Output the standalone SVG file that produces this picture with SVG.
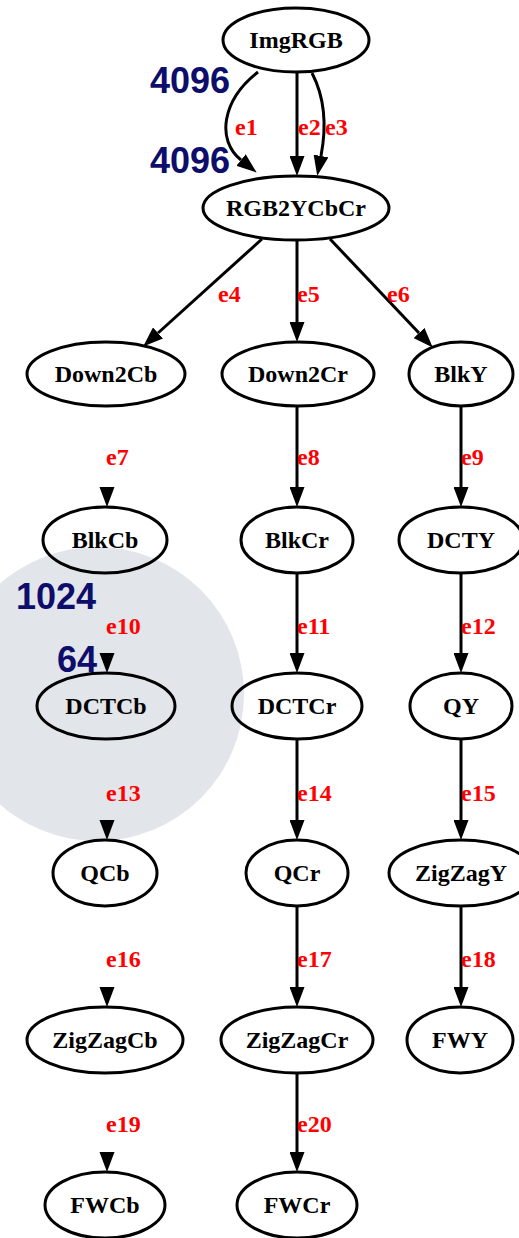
<svg xmlns="http://www.w3.org/2000/svg" width="519" height="1238" viewBox="0 0 519 1238">
  <style>
    .node ellipse { fill: none; stroke: #000; stroke-width: 3; }
    .node text { font-family: "Liberation Serif", "Times New Roman", serif; font-weight: bold; font-size: 24px; fill: #000; text-anchor: middle; }
    .edge { fill: none; stroke: #000; stroke-width: 3; marker-end: url(#arrow); }
    .elabel { font-family: "Liberation Serif", "Times New Roman", serif; font-weight: bold; font-size: 24px; fill: #ff0000; }
    .count { font-family: "Liberation Sans", Arial, sans-serif; font-weight: bold; font-size: 36px; fill: #0d0d6b; }
  </style>
  <defs>
    <marker id="arrow" viewBox="0 0 20 15" refX="0" refY="7.5" markerWidth="20" markerHeight="15" markerUnits="userSpaceOnUse" orient="auto">
      <path d="M0,0 L20,7.5 L0,15 Z" fill="#000"/>
    </marker>
    <path id="head" d="M-7.5,-20 L7.5,-20 L0,0 Z" fill="#000"/>
  </defs>

  <rect width="519" height="1238" fill="#fff"/>

  <!-- highlight disc behind the Cb branch -->
  <circle cx="97" cy="694" r="147" fill="#e2e5e9"/>

  <!-- connectors -->
  <g id="edges">
    <path class="edge" d="M258,72 C222,100 216,140 241,160"/>
    <path class="edge" d="M297,72 L297,156"/>
    <path class="edge" d="M312,73 C326,100 326,130 321,156"/>

    <path class="edge" d="M262,239 L158,333"/>
    <path class="edge" d="M297,240 L297,322"/>
    <path class="edge" d="M330,239 L419,333"/>

    <!-- Cb column: heads only -->
    <use href="#head" x="107" y="507"/>
    <use href="#head" x="107" y="673"/>
    <use href="#head" x="107" y="840"/>
    <use href="#head" x="107" y="1007"/>
    <use href="#head" x="107" y="1172"/>

    <!-- Cr column -->
    <path class="edge" d="M297,406 L297,487"/>
    <path class="edge" d="M297,573 L297,653"/>
    <path class="edge" d="M297,739 L297,820"/>
    <path class="edge" d="M297,906 L297,987"/>
    <path class="edge" d="M297,1073 L297,1152"/>

    <!-- Y column -->
    <path class="edge" d="M461,406 L461,487"/>
    <path class="edge" d="M461,573 L461,653"/>
    <path class="edge" d="M461,739 L461,820"/>
    <path class="edge" d="M461,906 L461,987"/>

    <!-- edge labels -->
    <text class="elabel" x="235" y="135">e1</text>
    <text class="elabel" x="298" y="135">e2</text>
    <text class="elabel" x="325" y="135">e3</text>
    <text class="elabel" x="218" y="302">e4</text>
    <text class="elabel" x="297" y="302">e5</text>
    <text class="elabel" x="387" y="302">e6</text>
    <text class="elabel" x="106" y="465">e7</text>
    <text class="elabel" x="297" y="465">e8</text>
    <text class="elabel" x="461" y="465">e9</text>
    <text class="elabel" x="106" y="634">e10</text>
    <text class="elabel" x="297" y="634">e11</text>
    <text class="elabel" x="461" y="634">e12</text>
    <text class="elabel" x="106" y="801">e13</text>
    <text class="elabel" x="297" y="801">e14</text>
    <text class="elabel" x="461" y="801">e15</text>
    <text class="elabel" x="106" y="967">e16</text>
    <text class="elabel" x="297" y="967">e17</text>
    <text class="elabel" x="461" y="967">e18</text>
    <text class="elabel" x="106" y="1132">e19</text>
    <text class="elabel" x="297" y="1132">e20</text>
  </g>

  <!-- nodes -->
  <g id="ImgRGB" class="node"><ellipse cx="296" cy="40" rx="73" ry="32"/><text x="296" y="48">ImgRGB</text></g>
  <g id="RGB2YCbCr" class="node"><ellipse cx="296" cy="208" rx="93" ry="32"/><text x="296" y="216">RGB2YCbCr</text></g>

  <g id="Down2Cb" class="node"><ellipse cx="106" cy="374" rx="79" ry="32"/><text x="106" y="382">Down2Cb</text></g>
  <g id="Down2Cr" class="node"><ellipse cx="298" cy="374" rx="76" ry="32"/><text x="298" y="382">Down2Cr</text></g>
  <g id="BlkY" class="node"><ellipse cx="461" cy="374" rx="52" ry="32"/><text x="461" y="382">BlkY</text></g>

  <g id="BlkCb" class="node"><ellipse cx="105" cy="540" rx="62" ry="33"/><text x="105" y="548">BlkCb</text></g>
  <g id="BlkCr" class="node"><ellipse cx="297" cy="540" rx="56" ry="33"/><text x="297" y="548">BlkCr</text></g>
  <g id="DCTY" class="node"><ellipse cx="461" cy="540" rx="62" ry="33"/><text x="461" y="548">DCTY</text></g>

  <g id="DCTCb" class="node"><ellipse cx="106" cy="706" rx="69" ry="33"/><text x="106" y="714">DCTCb</text></g>
  <g id="DCTCr" class="node"><ellipse cx="297" cy="706" rx="65" ry="33"/><text x="297" y="714">DCTCr</text></g>
  <g id="QY" class="node"><ellipse cx="461" cy="706" rx="51" ry="33"/><text x="461" y="714">QY</text></g>

  <g id="QCb" class="node"><ellipse cx="105" cy="873" rx="52" ry="33"/><text x="105" y="881">QCb</text></g>
  <g id="QCr" class="node"><ellipse cx="297" cy="873" rx="51" ry="33"/><text x="297" y="881">QCr</text></g>
  <g id="ZigZagY" class="node"><ellipse cx="461" cy="873" rx="72" ry="33"/><text x="461" y="881">ZigZagY</text></g>

  <g id="ZigZagCb" class="node"><ellipse cx="105" cy="1040" rx="78" ry="33"/><text x="105" y="1048">ZigZagCb</text></g>
  <g id="ZigZagCr" class="node"><ellipse cx="297" cy="1040" rx="76" ry="33"/><text x="297" y="1048">ZigZagCr</text></g>
  <g id="FWY" class="node"><ellipse cx="460" cy="1040" rx="53" ry="33"/><text x="460" y="1048">FWY</text></g>

  <g id="FWCb" class="node"><ellipse cx="105" cy="1205" rx="60" ry="33"/><text x="105" y="1213">FWCb</text></g>
  <g id="FWCr" class="node"><ellipse cx="297" cy="1205" rx="60" ry="33"/><text x="297" y="1213">FWCr</text></g>

  <!-- token rate annotations -->
  <g id="rates">
    <text class="count" x="150" y="93">4096</text>
    <text class="count" x="150" y="173">4096</text>
    <text class="count" x="16" y="609">1024</text>
    <text class="count" x="57" y="672">64</text>
  </g>
</svg>
